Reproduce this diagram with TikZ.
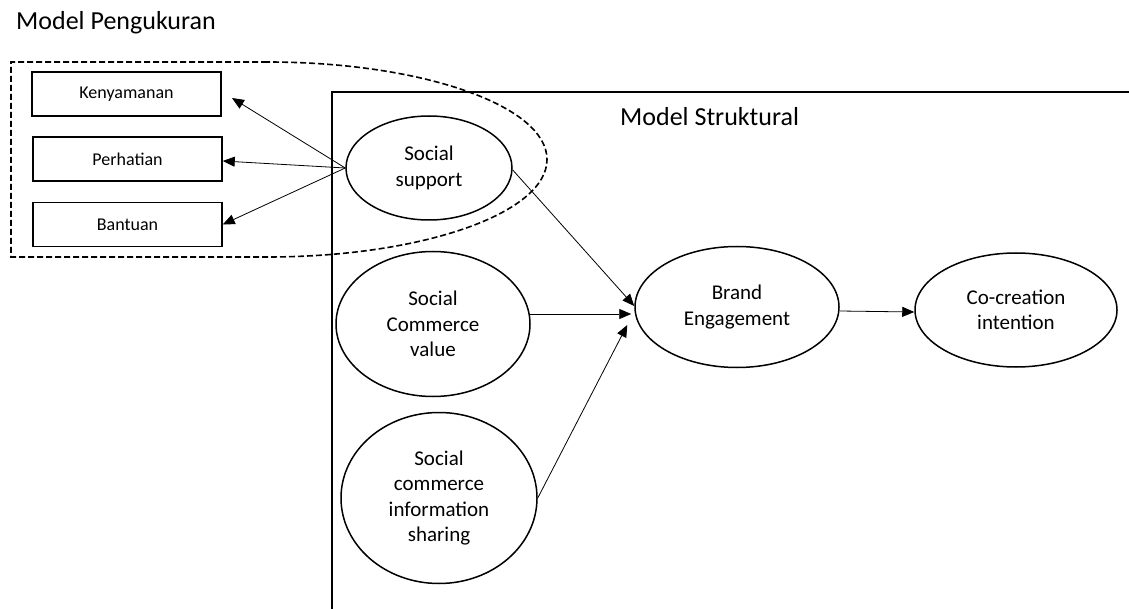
\documentclass[tikz,border=0pt]{standalone}
\usepackage{fontspec}
\setmainfont{Carlito}
\usepackage{tikz}
\usetikzlibrary{arrows.meta,shapes.geometric}

\begin{document}
\begin{tikzpicture}[x=1pt,y=-1pt,
    latent/.style={ellipse,draw,line width=1.5pt,inner sep=0pt,align=center,
      font=\fontsize{21}{25.5}\selectfont},
    indicator/.style={rectangle,draw,line width=1.5pt,minimum width=189pt,minimum height=44pt,
      inner sep=0pt,font=\fontsize{18}{22}\selectfont},
    path/.style={-{Triangle[length=12pt,width=10pt]},line width=0.8pt},
    heading/.style={anchor=base west,inner sep=0pt,font=\fontsize{26}{31}\selectfont}]
  \useasboundingbox (0,0) rectangle (1129,609);

  % ---- Measurement model ----
  \node[heading] (mp) at (16,30) {Model Pengukuran};
  \draw[dashed,dash pattern=on 6pt off 3pt,line width=1.6pt]
    (267,62) -- (11,62) -- (11,257) -- (267,257)
    arc[start angle=-90,end angle=90,x radius=280pt,y radius=97.5pt];
  \node[indicator] (kn) at (126.5,94) {Kenyamanan};
  \node[indicator] (ph) at (127.5,159) {Perhatian};
  \node[indicator] (bt) at (127.5,224.5) {Bantuan};

  % ---- Structural model ----
  \draw[line width=1.6pt] (332,612) -- (332,92) -- (1132,92);
  \node[heading] (ms) at (620,126) {Model Struktural};
  \node[latent,minimum width=166pt,minimum height=104pt] (ss) at (429,168) {Social\\support};
  \node[latent,minimum width=194pt,minimum height=145pt] (scv) at (433,324) {Social\\Commerce\\value};
  \node[latent,minimum width=196pt,minimum height=171pt] (scis) at (439,498) {Social\\commerce\\information\\sharing};
  \node[latent,minimum width=204pt,minimum height=121pt] (be) at (737,307) {Brand\\Engagement};
  \node[latent,minimum width=202pt,minimum height=114pt] (cc) at (1016,310) {Co-creation\\intention};

  % ---- Paths ----
  \coordinate (knend) at (232,98);
  \draw[path] (ss.west) -- (knend);
  \draw[path] (ss.west) -- ([yshift=-2pt]ph.east);
  \draw[path] (ss.west) -- (bt.east);
  \draw[path] ([yshift=-2pt]ss.east) -- ([yshift=1pt]be.west);
  \draw[path] ([yshift=10pt,xshift=-2pt]scv.east) -- ([xshift=-3pt,yshift=-7pt]be.west);
  \draw[path] (scis.east) -- ([xshift=-7pt,yshift=-18pt]be.west);
  \draw[path] ([yshift=-4pt]be.east) -- ([yshift=-2pt]cc.west);
\end{tikzpicture}
\end{document}
